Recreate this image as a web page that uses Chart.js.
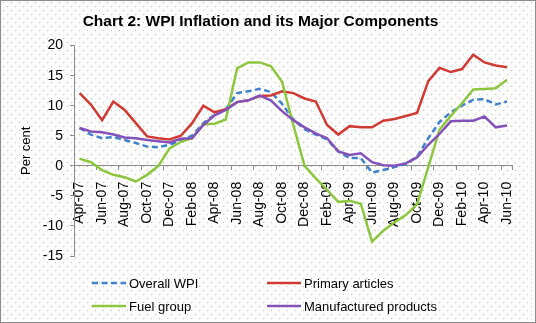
<!DOCTYPE html>
<html>
<head>
<meta charset="utf-8">
<script src="https://cdn.jsdelivr.net/npm/chart.js@4.4.0/dist/chart.umd.min.js"></script>
<style>
  html, body { margin: 0; padding: 0; background: #fff; }
  canvas { display: block; }
</style>
</head>
<body>
<canvas id="wpiChart" width="536" height="323"></canvas>
<script>
const months = ['Apr-07', 'May-07', 'Jun-07', 'Jul-07', 'Aug-07', 'Sep-07', 'Oct-07', 'Nov-07', 'Dec-07',
  'Jan-08', 'Feb-08', 'Mar-08', 'Apr-08', 'May-08', 'Jun-08', 'Jul-08', 'Aug-08', 'Sep-08', 'Oct-08', 'Nov-08', 'Dec-08',
  'Jan-09', 'Feb-09', 'Mar-09', 'Apr-09', 'May-09', 'Jun-09', 'Jul-09', 'Aug-09', 'Sep-09', 'Oct-09', 'Nov-09', 'Dec-09',
  'Jan-10', 'Feb-10', 'Mar-10', 'Apr-10', 'May-10', 'Jun-10'];

const overallWpi = [6.3, 5.2, 4.6, 4.8, 4.3, 3.8, 3.2, 3.1, 3.5, 4.3, 5.0, 7.1, 8.5, 9.4, 12.1, 12.4, 12.8, 12.3, 10.3,
  7.7, 6.1, 5.2, 4.4, 2.4, 1.3, 1.3, -1.1, -0.7, -0.2, 0.3, 1.5, 4.6, 7.3, 8.9, 10.0, 11.0, 11.1, 10.2, 10.7];
const primaryArticles = [12.1, 10.2, 7.6, 10.7, 9.3, 7.1, 4.9, 4.6, 4.4, 5.0, 7.1, 10.0, 8.9, 9.4, 10.6, 10.9, 11.6, 11.7, 12.4,
  12.1, 11.2, 10.7, 6.8, 5.2, 6.6, 6.4, 6.4, 7.5, 7.8, 8.3, 8.8, 14.1, 16.3, 15.6, 16.1, 18.5, 17.2, 16.7, 16.4];
const fuelGroup = [1.2, 0.6, -0.7, -1.5, -1.9, -2.6, -1.5, 0.0, 2.9, 4.0, 4.6, 6.9, 7.0, 7.7, 16.2, 17.2, 17.2, 16.6, 14.0,
  6.8, 0.0, -2.1, -4.0, -6.0, -5.8, -6.3, -12.6, -10.8, -9.4, -8.2, -6.4, -0.2, 6.0, 8.3, 10.4, 12.7, 12.8, 12.9, 14.3];
const manufactured = [6.3, 5.7, 5.6, 5.2, 4.7, 4.6, 4.3, 4.1, 3.9, 4.5, 4.6, 6.8, 8.4, 9.3, 10.6, 10.9, 11.7, 10.9, 9.1,
  7.6, 6.4, 5.4, 4.6, 2.4, 1.8, 2.1, 0.6, 0.1, 0.0, 0.4, 1.4, 3.5, 5.3, 7.4, 7.5, 7.5, 8.2, 6.4, 6.7];
const yTicks = [20, 15, 10, 5, 0, -5, -10, -15];

const fontFamily = '"Liberation Sans", Arial, sans-serif';
Chart.defaults.font.family = fontFamily;
Chart.defaults.color = '#000';

// excel style dotted fill + frame
const dottedBackground = {
  id: 'dottedBackground',
  beforeDraw(chart) {
    const c = chart.ctx;
    c.save();
    c.fillStyle = '#fff';
    c.fillRect(0, 0, chart.width, chart.height);
    c.fillStyle = '#b8b8b8';
    for (let y = 2; y < chart.height; y += 4) {
      const shift = (y - 2) % 8 ? 4 : 0;
      for (let x = 3 + shift; x < chart.width; x += 8) c.fillRect(x, y, 1, 1);
    }
    c.strokeStyle = '#8c8c8c';
    c.lineWidth = 1;
    c.strokeRect(0.5, 0.5, chart.width - 1, chart.height - 1);
    c.restore();
  }
};

// two-column legend under the plot
const gridLegend = {
  id: 'gridLegend',
  afterDraw(chart) {
    const c = chart.ctx;
    const cols = [92, 267];
    const rows = [283, 306];
    c.save();
    c.font = '13px ' + fontFamily;
    c.textBaseline = 'middle';
    chart.data.datasets.forEach((ds, i) => {
      const x = cols[i % 2];
      const y = rows[Math.floor(i / 2)];
      c.strokeStyle = ds.borderColor;
      c.lineWidth = ds.borderWidth;
      c.setLineDash(ds.borderDash || []);
      c.beginPath();
      c.moveTo(x, y);
      c.lineTo(x + 34, y);
      c.stroke();
      c.setLineDash([]);
      c.fillStyle = '#000';
      c.fillText(ds.label, x + 37, y + 1);
    });
    c.restore();
  }
};

const ctx = document.getElementById('wpiChart').getContext('2d');

new Chart(ctx, {
  type: 'line',
  data: {
    labels: months,
    datasets: [
      { label: 'Overall WPI', data: overallWpi, borderColor: '#3f80cd', borderWidth: 2.5, borderDash: [6, 3.5], order: 4 },
      { label: 'Primary articles', data: primaryArticles, borderColor: '#cf3a32', borderWidth: 2.5, order: 3 },
      { label: 'Fuel group', data: fuelGroup, borderColor: '#8cc63e', borderWidth: 2.5, order: 2 },
      { label: 'Manufactured products', data: manufactured, borderColor: '#8352b8', borderWidth: 2.5, order: 1 }
    ]
  },
  options: {
    responsive: false,
    animation: false,
    devicePixelRatio: 1,
    elements: {
      point: { radius: 0 },
      line: { tension: 0, fill: false, borderCapStyle: 'butt' }
    },
    layout: { padding: { left: 0, right: 15, top: 0, bottom: 67 } },
    scales: {
      x: {
        type: 'category',
        position: { y: 0 },
        offset: true,
        ticks: {
          autoSkip: false,
          minRotation: 90,
          maxRotation: 90,
          padding: 12,
          font: { size: 14 },
          callback: function(value, index) {
            return index % 2 ? '' : this.getLabelForValue(value);
          }
        },
        grid: {
          offset: true,
          drawOnChartArea: false,
          tickLength: 4,
          color: c => (c.index % 2 ? 'rgba(0,0,0,0)' : '#8c8c8c')
        },
        border: { color: '#8c8c8c' }
      },
      y: {
        min: -15,
        max: 20,
        afterBuildTicks: scale => { scale.ticks = yTicks.map(v => ({ value: v })); },
        afterFit: scale => { scale.width = 74; },
        ticks: { padding: 7, font: { size: 14 } },
        grid: { drawOnChartArea: false, tickLength: 4, color: '#8c8c8c' },
        border: { color: '#8c8c8c' },
        title: {
          display: true,
          text: 'Per cent',
          font: { size: 13 },
          padding: { top: 19, bottom: 0 }
        }
      }
    },
    plugins: {
      legend: { display: false },
      tooltip: { enabled: false },
      title: {
        display: true,
        text: 'Chart 2: WPI Inflation and its Major Components',
        color: '#000',
        font: { size: 15.5, weight: 'bold' },
        padding: { top: 12, bottom: 15 }
      }
    }
  },
  plugins: [dottedBackground, gridLegend]
});
</script>
</body>
</html>
